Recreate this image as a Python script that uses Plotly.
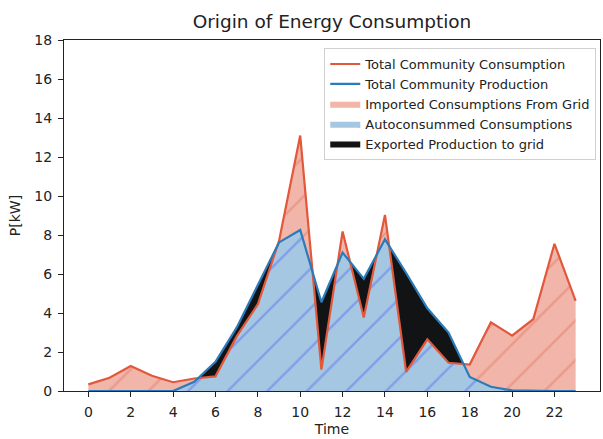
import numpy as np
import plotly.graph_objects as go

# Hourly community power balance [kW]
hours = list(range(24))
consumption = [0.34, 0.68, 1.28, 0.78, 0.45, 0.64, 0.75, 2.80, 4.45, 7.70,
               13.10, 1.10, 8.18, 3.77, 9.03, 0.98, 2.65, 1.45, 1.36, 3.52,
               2.84, 3.68, 7.55, 4.62]
production = [0.0, 0.0, 0.0, 0.0, 0.0, 0.47, 1.50, 3.25, 5.45, 7.62,
              8.26, 4.55, 7.10, 5.75, 7.78, 6.05, 4.24, 3.00, 0.72, 0.22,
              0.03, 0.0, 0.0, 0.0]
x_ticks = list(range(0, 24, 2))
y_ticks = list(range(0, 19, 2))

FONT = "DejaVu Sans"
RED = "#e1583b"
BLUE = "#2b7bba"


def with_crossings(t, a, b):
    """Insert the points where series a and b cross, so fills split cleanly."""
    xs, ya, yb = [], [], []
    for i in range(len(t) - 1):
        xs.append(t[i]); ya.append(a[i]); yb.append(b[i])
        d0, d1 = a[i] - b[i], a[i + 1] - b[i + 1]
        if d0 * d1 < 0:
            f = d0 / (d0 - d1)
            xs.append(t[i] + f * (t[i + 1] - t[i]))
            ya.append(a[i] + f * (a[i + 1] - a[i]))
            yb.append(b[i] + f * (b[i + 1] - b[i]))
    xs.append(t[-1]); ya.append(a[-1]); yb.append(b[-1])
    return np.array(xs), np.array(ya), np.array(yb)


tx, cons_r, prod_r = with_crossings(hours, consumption, production)
self_used = np.minimum(cons_r, prod_r)
upper = np.maximum(cons_r, prod_r)

fig = go.Figure()

# self-consumed part, from zero up to min(consumption, production)
fig.add_trace(go.Scatter(
    x=tx, y=self_used, mode="lines", fill="tozeroy",
    line=dict(width=0, color="#4f6ff0"),
    fillcolor="#a6c7e2",
    fillpattern=dict(shape="/", size=28, solidity=0.085,
                     fgcolor="#5a74f0", bgcolor="#a6c7e2"),
    name="Autoconsummed Consumptions", legendrank=4, hoverinfo="skip"))

# consumption above production is imported from the grid
fig.add_trace(go.Scatter(
    x=tx, y=cons_r, mode="lines", fill="tonexty",
    line=dict(width=0, color="#e8826d"),
    fillcolor="#f1b5a9",
    fillpattern=dict(shape="/", size=28, solidity=0.085,
                     fgcolor="#e2806b", bgcolor="#f1b5a9"),
    name="Imported Consumptions From Grid", legendrank=3, hoverinfo="skip"))

# production above consumption is exported
fig.add_trace(go.Scatter(
    x=tx, y=upper, mode="lines", fill="tonexty",
    line=dict(width=0, color="#111111"),
    fillcolor="#111315",
    name="Exported Production to grid", legendrank=5, hoverinfo="skip"))

fig.add_trace(go.Scatter(
    x=hours, y=consumption, mode="lines",
    line=dict(color=RED, width=2.2),
    name="Total Community Consumption", legendrank=1))

fig.add_trace(go.Scatter(
    x=hours, y=production, mode="lines",
    line=dict(color=BLUE, width=2.2),
    name="Total Community Production", legendrank=2))

axis_common = dict(
    showgrid=False, zeroline=False, showline=True, linecolor="#222222",
    linewidth=1, mirror=True, ticks="outside", ticklen=5, tickwidth=1,
    tickcolor="#222222", ticklabelstandoff=3,
    tickfont=dict(family=FONT, size=14, color="#222222"),
)

fig.update_layout(
    width=603, height=439,
    margin=dict(l=63.5, r=2.5, t=40, b=48),
    paper_bgcolor="white", plot_bgcolor="white",
    font=dict(family=FONT, color="#222222"),
    title=dict(text="Origin of Energy Consumption", x=0.5, xref="paper",
               y=1 - 22 / 439, yref="container", yanchor="middle",
               font=dict(family=FONT, size=18.5, color="#222222")),
    xaxis=dict(range=[-1.15, 24.15], tickvals=x_ticks,
               title=dict(text="Time", standoff=5,
                          font=dict(family=FONT, size=14)),
               **axis_common),
    yaxis=dict(range=[0, 18], tickvals=y_ticks,
               title=dict(text="P[kW]", standoff=10,
                          font=dict(family=FONT, size=14)),
               **axis_common),
    legend=dict(x=0.993, xanchor="right", y=0.977, yanchor="top",
                traceorder="normal",
                bgcolor="rgba(255,255,255,0.85)", bordercolor="#d0d0d0",
                borderwidth=1, font=dict(family=FONT, size=13, color="#222222"),
                tracegroupgap=0, itemwidth=30),
    showlegend=True,
)

fig.write_html("out.html")
